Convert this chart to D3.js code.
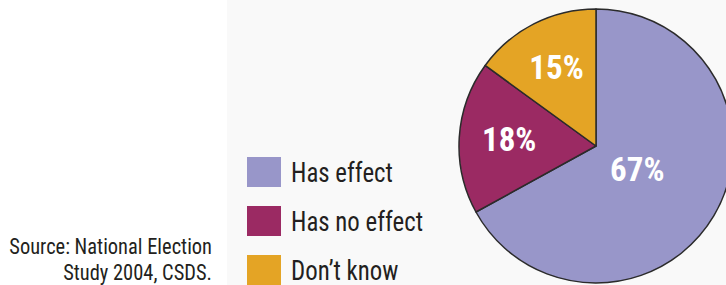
<!DOCTYPE html>
<html>
<head>
<meta charset="utf-8">
<script src="https://cdn.jsdelivr.net/npm/d3@7"></script>
<style>
  html, body { margin: 0; padding: 0; background: #fff; }
  svg { display: block; }
  text { font-family: "Liberation Sans Narrow", "Roboto Condensed", "Liberation Sans", sans-serif; }
</style>
</head>
<body>
<svg id="chart" width="726" height="285"></svg>
<script>
const categories = ["Has effect", "Has no effect", "Don\u2019t know"];
const values = [67, 18, 15];
const sliceColors = ["#9896c9", "#9b2a63", "#e4a425"];
const sourceLines = ["Source: National Election", "Study 2004, CSDS."];

const svg = d3.select("#chart");
const width = 726, height = 285;

// faint grey panel behind legend + pie
svg.append("rect")
    .attr("x", 227).attr("y", 0)
    .attr("width", width - 227).attr("height", height)
    .attr("fill", "#f9f9f9");

const data = categories.map((c, i) => ({ label: c, value: values[i] }));
const colors = d3.scaleOrdinal().domain(categories).range(sliceColors);

const radius = 137;
const cx = 596, cy = 146;

let pie = d3.pie().value(d => d.value).sort(null);
let arcGenerator = d3.arc().innerRadius(0).outerRadius(radius);
let arcData = pie(data);

const g = svg.append("g").attr("transform", `translate(${cx},${cy})`);

g.selectAll("path")
    .data(arcData)
    .join("path")
    .attr("d", arcGenerator)
    .attr("fill", d => colors(d.data.label))
    .attr("stroke", "#2b2b2b")
    .attr("stroke-width", 1.5)
    .attr("stroke-linejoin", "round");

// big slice label sits closer to the centre
const labelRadius = d => d.data.value > 50 ? 48 : 87;
g.selectAll("text.pct")
    .data(arcData)
    .join("text")
    .attr("class", "pct")
    .attr("transform", d => {
        let a = (d.startAngle + d.endAngle) / 2;
        let r = labelRadius(d);
        return `translate(${Math.sin(a) * r},${-Math.cos(a) * r - 1})`;
    })
    .attr("text-anchor", "middle")
    .attr("dy", "0.36em")
    .attr("fill", "#fff")
    .attr("font-weight", "bold")
    .attr("font-size", 33)
    .text(d => d.data.value + "%");

// legend
const legend = svg.append("g").attr("transform", "translate(247,157)");
const item = legend.selectAll("g")
    .data(data)
    .join("g")
    .attr("transform", (d, i) => `translate(0,${i * 49})`);

item.append("rect")
    .attr("width", 34).attr("height", 30)
    .attr("fill", d => colors(d.label));

// reference face is narrower than Roboto Condensed, squeeze a bit
item.append("text")
    .attr("transform", "translate(44,25) scale(0.92,1)")
    .attr("font-size", 27)
    .attr("fill", "#231f20")
    .text(d => d.label);

// source note
svg.append("g")
    .selectAll("text")
    .data(sourceLines)
    .join("text")
    .attr("transform", (d, i) => `translate(212,${254 + i * 26}) scale(0.93,1)`)
    .attr("text-anchor", "end")
    .attr("font-size", 22)
    .attr("fill", "#231f20")
    .text(d => d);
</script>
</body>
</html>
